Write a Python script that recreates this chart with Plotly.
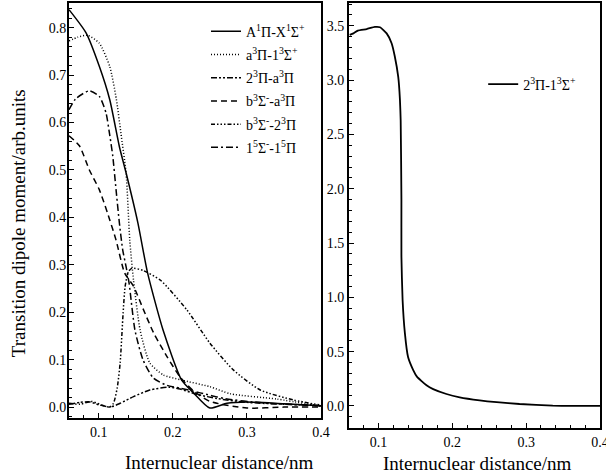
import plotly.graph_objects as go

# Left panel: transition dipole moments (arb. units) vs internuclear distance (nm)
ax_x = [0.06, 0.083, 0.101, 0.115, 0.128, 0.137, 0.153, 0.166, 0.187, 0.212, 0.228, 0.25, 0.273, 0.30, 0.35, 0.40]
ax_y = [0.838, 0.789, 0.718, 0.648, 0.549, 0.494, 0.388, 0.283, 0.162, 0.057, 0.030, -0.002, 0.008, 0.011, 0.007, 0.003]

a1_x = [0.06, 0.072, 0.085, 0.101, 0.115, 0.124, 0.130, 0.137, 0.142, 0.147, 0.156, 0.169, 0.187, 0.212, 0.25, 0.278, 0.34, 0.40]
a1_y = [0.772, 0.780, 0.784, 0.767, 0.718, 0.648, 0.578, 0.494, 0.352, 0.268, 0.162, 0.093, 0.068, 0.057, 0.043, 0.028, 0.017, 0.002]

b_a_x = [0.06, 0.074, 0.0875, 0.101, 0.112, 0.1235, 0.135, 0.147, 0.16, 0.174, 0.192, 0.21, 0.228, 0.25, 0.30, 0.35, 0.40]
b_a_y = [0.572, 0.551, 0.50, 0.458, 0.409, 0.352, 0.283, 0.255, 0.207, 0.157, 0.107, 0.063, 0.034, 0.012, -0.002, 0.0, 0.0]

# 2³Π-a³Π: small bump curve
p2_x = [0.06, 0.075, 0.088, 0.10, 0.1155, 0.129, 0.147, 0.169, 0.195, 0.21, 0.2325, 0.26, 0.30, 0.35, 0.40]
p2_y = [0.006, 0.010, 0.011, 0.005, 0.0, 0.008, 0.022, 0.036, 0.042, 0.038, 0.027, 0.018, 0.010, 0.006, 0.003]

# b³Σ⁻-2³Π: sharp rise then long tail
b2_x = [0.06, 0.075, 0.09, 0.105, 0.115, 0.120, 0.125, 0.129, 0.133, 0.1357, 0.140, 0.145, 0.160, 0.183, 0.219, 0.25, 0.282, 0.318, 0.363, 0.40]
b2_y = [0.008, 0.006, 0.012, 0.004, 0.0, 0.008, 0.040, 0.093, 0.198, 0.254, 0.285, 0.293, 0.288, 0.268, 0.205, 0.135, 0.078, 0.036, 0.015, 0.004]

# 1⁵Σ⁻-1⁵Π: peak near 0.09 nm, steep fall
q_x = [0.06, 0.069, 0.0875, 0.101, 0.11, 0.1145, 0.119, 0.1235, 0.128, 0.1325, 0.137, 0.141, 0.149, 0.16, 0.174, 0.192, 0.21, 0.237, 0.27, 0.32, 0.40]
q_y = [0.627, 0.650, 0.667, 0.655, 0.620, 0.578, 0.530, 0.458, 0.388, 0.331, 0.296, 0.262, 0.162, 0.099, 0.061, 0.046, 0.040, 0.030, 0.018, 0.009, 0.003]

# Right panel: 2³Π-1³Σ⁺
r_x = [0.061, 0.066, 0.072, 0.084, 0.095, 0.102, 0.111, 0.1177, 0.122, 0.1267, 0.129, 0.130, 0.131, 0.131, 0.1326,
       0.1357, 0.14, 0.147, 0.152, 0.165, 0.174, 0.192, 0.21, 0.237, 0.26, 0.291, 0.336, 0.36, 0.40]
r_y = [3.416, 3.43, 3.456, 3.47, 3.49, 3.487, 3.43, 3.34, 3.22, 3.03, 2.82, 2.63, 1.90, 1.375, 0.976,
       0.67, 0.45, 0.33, 0.27, 0.19, 0.155, 0.11, 0.08, 0.052, 0.035, 0.018, 0.003, 0.0, 0.0]

left_names = [
    "A<sup>1</sup>Π-X<sup>1</sup>Σ<sup>+</sup>",
    "a<sup>3</sup>Π-1<sup>3</sup>Σ<sup>+</sup>",
    "2<sup>3</sup>Π-a<sup>3</sup>Π",
    "b<sup>3</sup>Σ<sup>-</sup>-a<sup>3</sup>Π",
    "b<sup>3</sup>Σ<sup>-</sup>-2<sup>3</sup>Π",
    "1<sup>5</sup>Σ<sup>-</sup>-1<sup>5</sup>Π",
]
right_name = "2<sup>3</sup>Π-1<sup>3</sup>Σ<sup>+</sup>"

font = "Liberation Serif, Times New Roman, serif"
left_data = [(ax_x, ax_y), (a1_x, a1_y), (p2_x, p2_y), (b_a_x, b_a_y), (b2_x, b2_y), (q_x, q_y)]
dashes = ["solid", "1px,2px", "6px,2px,2px,2px,2px,2px", "6px,4px", "4px,2px,1.5px,2px,1.5px,2px,1.5px,2px", "7px,3px,2px,3px"]

fig = go.Figure()
for i, ((xs, ys), name, dash) in enumerate(zip(left_data, left_names, dashes)):
    fig.add_trace(go.Scatter(
        x=xs, y=ys, mode="lines", name=name, legendgroup=f"g{i}",
        line=dict(color="black", width=1.5, dash=dash, shape="spline", smoothing=0.6),
        xaxis="x", yaxis="y", legend="legend",
    ))

fig.add_trace(go.Scatter(
    x=r_x, y=r_y, mode="lines", name=right_name,
    line=dict(color="black", width=1.8, shape="spline", smoothing=0.5),
    xaxis="x2", yaxis="y2", legend="legend2",
))

axis_common = dict(
    showline=True, linecolor="black", linewidth=1.8, mirror=True,
    ticks="inside", ticklen=5, tickwidth=1, tickcolor="black",
    showgrid=False, zeroline=False, ticklabeloverflow="allow",
    tickfont=dict(family=font, size=14, color="black"),
    minor=dict(ticks="inside", ticklen=3, tickcolor="black", tickwidth=1),
)
title_font = dict(family=font, size=19, color="black")

fig.update_layout(
    template="none",
    width=606, height=476,
    margin=dict(l=69, r=6, t=3, b=48),
    plot_bgcolor="white", paper_bgcolor="white",
    font=dict(family=font, color="black"),
    showlegend=True,
    xaxis=dict(domain=[0, 0.4746], range=[0.06, 0.4], dtick=0.1, tick0=0,
               anchor="y", **axis_common),
    yaxis=dict(domain=[0.0235, 1], range=[-0.023, 0.852], dtick=0.1, tick0=0, tickformat=".1f",
               anchor="x", ticklabelstandoff=-2, **axis_common),
    xaxis2=dict(domain=[0.5273, 1], range=[0.06, 0.4], dtick=0.1, tick0=0,
                anchor="y2", **axis_common),
    yaxis2=dict(domain=[0, 1], range=[-0.203, 3.71], dtick=0.5, tick0=0, tickformat=".1f",
                anchor="x2", **axis_common),
    legend=dict(x=0.258, y=0.97, xanchor="left", yanchor="top",
                bgcolor="rgba(0,0,0,0)", font=dict(family=font, size=14, color="black"),
                tracegroupgap=2, itemwidth=30),
    legend2=dict(x=0.780, y=0.846, xanchor="left", yanchor="top",
                 bgcolor="rgba(0,0,0,0)", font=dict(family=font, size=14, color="black"),
                 itemwidth=30),
    annotations=[
        dict(text="Internuclear distance/nm", x=0.284, y=-0.08, xref="paper", yref="paper",
             xanchor="center", yanchor="middle", showarrow=False, font=title_font),
        dict(text="Internuclear distance/nm", x=0.770, y=-0.0847, xref="paper", yref="paper",
             xanchor="center", yanchor="middle", showarrow=False, font=title_font),
        dict(text="Transition dipole moment/arb.units", x=-0.096, y=0.482, xref="paper", yref="paper",
             xanchor="center", yanchor="middle", textangle=-90, showarrow=False, font=title_font),
    ],
)

fig.write_html("out.html", config={"displayModeBar": False},
               post_script="document.body.style.margin='0';document.body.style.padding='0';")
